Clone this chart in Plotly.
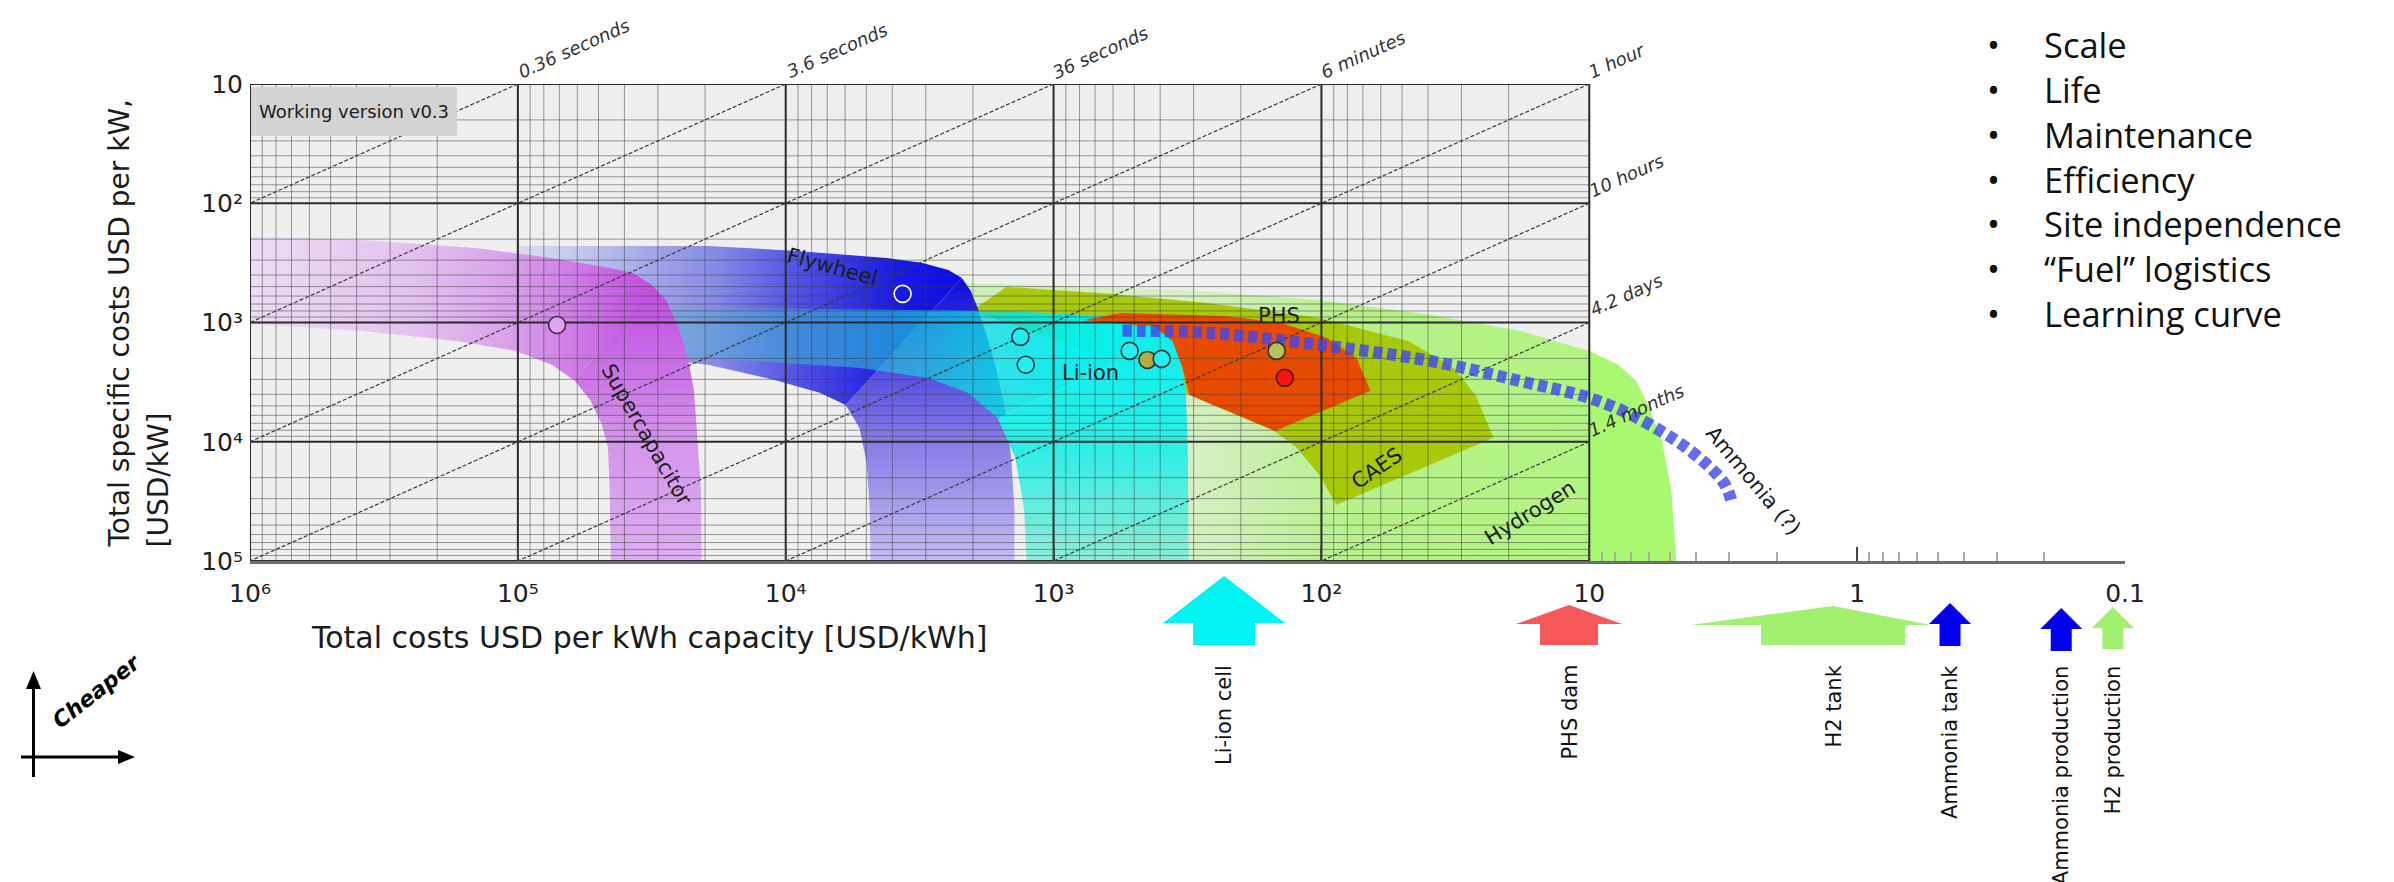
import numpy as np
import plotly.graph_objects as go

# ---------------------------------------------------------------- data
X_TICKS = [1e6, 1e5, 1e4, 1e3, 1e2, 10, 1, 0.1]
X_TICKTEXT = ['10\u2076', '10\u2075', '10\u2074', '10\u00b3', '10\u00b2', '10', '1', '0.1']
X_MINOR = [m * 10.0 ** k for k in (-1, 0) for m in range(2, 10)]
Y_TICKS = [10, 1e2, 1e3, 1e4, 1e5]
Y_TICKTEXT = ['10', '10\u00b2', '10\u00b3', '10\u2074', '10\u2075']

DURATION_HOURS = [1e-4, 1e-3, 1e-2, 1e-1, 1, 10, 100, 1000]
DURATION_LABELS = ['0.36 seconds', '3.6 seconds', '36 seconds', '6 minutes',
                   '1 hour', '10 hours', '4.2 days', '1.4 months']

# region outlines: outer edge (top, then right side down), inner edge (bottom up, then back left)
SUPERCAP_OUTER_X = [1.0e6, 3.85e5, 1.44e5, 7.46e4, 4.54e4, 3.72e4, 3.16e4, 2.78e4, 2.51e4,
                    2.32e4, 2.20e4, 2.13e4, 2.07e4, 2.06e4]
SUPERCAP_OUTER_Y = [191, 203, 237, 288, 349, 384, 484, 659, 1110, 1980, 3740, 9820, 25800, 1.0e5]
SUPERCAP_INNER_X = [4.50e4, 4.54e4, 4.61e4, 4.86e4, 5.35e4, 6.12e4, 7.46e4, 1.02e5, 1.69e5,
                    3.85e5, 1.0e6]
SUPERCAP_INNER_Y = [1.0e5, 25800, 11200, 7210, 4540, 3090, 2260, 1730, 1430, 1170, 1030]

FLY_OUTER_X = [1.0e5, 1.95e4, 9100, 4200, 3110, 2470, 2200, 2040, 1920, 1780, 1640, 1520,
               1440, 1400, 1400]
FLY_OUTER_Y = [228, 228, 251, 288, 316, 362, 423, 543, 755, 1270, 2400, 5200, 13600, 35800, 1.0e5]
FLY_INNER_X = [4820, 4860, 4990, 5300, 5970, 7460, 1.10e4, 1.95e4, 4.61e4, 1.0e5]
FLY_INNER_Y = [1.0e5, 35800, 15000, 7650, 4910, 3890, 3030, 2260, 1800, 1480]

LIION_OUTER_X = [1.0e5, 8280, 1490, 630, 424, 363, 336, 321, 316, 313]
LIION_OUTER_Y = [755, 769, 800, 881, 970, 1350, 1980, 3740, 9820, 1.0e5]
LIION_INNER_X = [1260, 1290, 1390, 1620, 2090, 2950, 5380, 1.95e4, 1.0e5]
LIION_INNER_Y = [1.0e5, 35800, 13600, 6310, 3890, 2910, 2400, 1980, 1800]

H2_OUTER_X = [2280, 910, 288, 102, 39.2, 18.2, 10, 7.80, 6.68, 5.97, 5.35, 4.94, 4.73]
H2_OUTER_Y = [466, 493, 543, 647, 863, 1175, 1730, 2260, 3090, 5200, 9820, 25800, 1.0e5]
H2_INNER_X = [630, 630, 966, 2090]
H2_INNER_Y = [1.0e5, 3530, 1350, 685]

CAES_X = [1950, 1500, 618, 266, 102, 47.3, 32.1, 26.6, 22.8, 87.9, 102, 124, 150, 266, 630,
          1490, 1950]
CAES_Y = [755, 503, 575, 685, 915, 1430, 2400, 4050, 9270, 33800, 18900, 11200, 8110, 4720,
          1980, 1010, 832]

PHS_X = [773, 562, 230, 141, 95.0, 74.0, 65.6, 149, 311, 330, 360, 424, 562]
PHS_Y = [951, 832, 881, 1010, 1350, 1980, 3740, 8110, 4050, 2400, 1430, 1070, 1030]

AMMONIA_X = [553, 266, 102, 39.2, 18.2, 10, 6.97, 4.73, 3.63, 3.11, 2.92]
AMMONIA_Y = [1175, 1220, 1540, 2100, 3090, 4290, 5960, 9820, 15600, 23000, 33800]

MARKER_X = [7.14e4, 3660, 1330, 1270, 520, 446, 395, 147, 137]
MARKER_Y = [1050, 575, 1320, 2260, 1730, 2060, 2020, 1730, 2910]
MARKER_FILL = ['#e0a4f2', '#1818e6', '#22eef0', '#22eef0', '#22eef0', '#b4ae42',
               '#22eef0', '#b8c25c', '#ff1010']
MARKER_EDGE = ['#3b2b40', '#ffffff', '#263838', '#263838', '#263838', '#333322',
               '#263838', '#333322', '#402020']

REGION_LABELS = ['Supercapacitor', 'Flywheel', 'Li-ion', 'PHS', 'CAES', 'Hydrogen', 'Ammonia (?)']
REGION_LABEL_X = [3.3e4, 6680, 728, 144, 61.8, 16.7, 2.44]
REGION_LABEL_Y = [8750, 342, 2640, 881, 16600, 39400, 21300]
REGION_LABEL_ANGLE = [60, 15, 0, 0, -34, -32, 50]

ARROW_LABELS = ['Li-ion cell', 'PHS dam', 'H2 tank', 'Ammonia tank', 'Ammonia production',
                'H2 production']
ARROW_X = [231, 11.9, 1.23, 0.450, 0.173, 0.111]

BULLETS = ['Scale', 'Life', 'Maintenance', 'Efficiency', 'Site independence',
           '\u201cFuel\u201d logistics', 'Learning curve']

# ---------------------------------------------------------------- layout geometry / styles
W, H = 2394, 882
ML, MR, MT, MB = 242, 277, 76, 329
PW, PH = W - ML - MR, H - MT - MB
XR = [6, -1]
YR = [5, 1]
FONT = 'DejaVu Sans'
TXT = '#1c1c1c'

ARROW_COLORS = ['#00f4f4', '#f85858', '#a2f070', '#0000ee', '#0000ee', '#a2f070']
# tip_y, base_y, bottom_y, head_left, head_right, shaft_half
ARROW_GEOM = [(568, 615, 637, -61, 61, 31),
              (597, 616, 637, -53, 53, 29),
              (598, 617, 637, -143, 98, 72),
              (595, 616, 638, -21, 21, 10.5),
              (600, 621, 643, -21, 21, 10.5),
              (599, 620, 641, -21, 21, 10.5)]


def fx(px):
    return (px - ML) / PW


def fy(py):
    return (H - MB - py) / PH


def xpix(v):
    return ML + (XR[0] - np.log10(v)) / (XR[0] - XR[1]) * PW


def ypix(v):
    return MT + (np.log10(v) - YR[1]) / (YR[0] - YR[1]) * PH


def fill_trace(xs, ys, gtype=None, cscale=None, color=None):
    kw = dict(x=list(xs), y=list(ys), mode='lines', fill='toself',
              line=dict(width=0, color='rgba(0,0,0,0)'), hoverinfo='skip', showlegend=False)
    if gtype:
        kw['fillgradient'] = dict(type=gtype, colorscale=cscale)
    else:
        kw['fillcolor'] = color
    return go.Scatter(**kw)


def split_band(ox, oy, ix, iy, ko, ki):
    top = (ox[:ko + 1] + ix[ki:], oy[:ko + 1] + iy[ki:])
    vert = (ox[ko:] + ix[:ki + 1], oy[ko:] + iy[:ki + 1])
    return top, vert


def segments(pairs):
    xs, ys = [], []
    for (x0, y0), (x1, y1) in pairs:
        xs += [x0, x1, None]
        ys += [y0, y1, None]
    return xs, ys


fig = go.Figure()

# ---------------------------------------------------------------- filled regions
H2_SCALE = [[0, 'rgba(175,240,130,0.55)'], [0.3, 'rgba(180,240,140,0.40)'],
            [0.45, 'rgba(170,240,120,0.62)'], [0.55, 'rgba(168,242,112,0.80)'],
            [0.875, 'rgba(168,245,112,0.85)'], [0.885, 'rgb(168,248,112)'], [1, 'rgb(168,248,112)']]
fig.add_trace(fill_trace(H2_OUTER_X + H2_INNER_X, H2_OUTER_Y + H2_INNER_Y, 'horizontal', H2_SCALE))
fig.add_trace(fill_trace(CAES_X, CAES_Y, color='rgba(166,198,0,0.93)'))

# vertical fill gradients run from the bottom (0) to the top (1)
fw_top, fw_vert = split_band(FLY_OUTER_X, FLY_OUTER_Y, FLY_INNER_X, FLY_INNER_Y, 6, 4)
fig.add_trace(fill_trace(*fw_top, 'horizontal',
                         [[0, 'rgba(200,205,238,0.55)'], [0.2, '#b6baeb'], [0.45, '#8589e6'],
                          [0.65, '#4c4ce5'], [0.85, '#1a1ae7'], [1, '#0a0ae9']]))
fig.add_trace(fill_trace(*fw_vert, 'vertical',
                         [[0, '#c4bcf2'], [0.4, '#8a80e6'], [0.72, '#4a44e2'], [1, '#0a0ae9']]))

li_top, li_vert = split_band(LIION_OUTER_X, LIION_OUTER_Y, LIION_INNER_X, LIION_INNER_Y, 5, 3)
fig.add_trace(fill_trace(*li_top, 'horizontal',
                         [[0, 'rgba(90,170,195,0.12)'], [0.3, 'rgba(70,180,205,0.42)'],
                          [0.55, 'rgba(40,200,215,0.60)'], [0.75, 'rgba(0,225,230,0.82)'],
                          [0.85, 'rgba(0,240,240,0.95)'], [1, 'rgb(12,240,240)']]))
fig.add_trace(fill_trace(*li_vert, 'vertical',
                         [[0, 'rgba(125,236,214,0.85)'], [0.5, 'rgb(45,238,230)'],
                          [1, 'rgb(12,240,240)']]))

fig.add_trace(fill_trace(PHS_X, PHS_Y, color='rgba(232,70,0,0.96)'))

sc_top, sc_vert = split_band(SUPERCAP_OUTER_X, SUPERCAP_OUTER_Y, SUPERCAP_INNER_X,
                             SUPERCAP_INNER_Y, 6, 5)
fig.add_trace(fill_trace(*sc_top, 'horizontal',
                         [[0, '#ecdcf3'], [0.39, '#e3c3ef'], [0.64, '#d9a2eb'],
                          [0.84, '#cc74e6'], [1, '#c24ce1']]))
fig.add_trace(fill_trace(*sc_vert, 'vertical',
                         [[0, '#ddaef1'], [0.44, '#d494ec'], [0.75, '#c76ae4'], [1, '#c24ce1']]))

# ---------------------------------------------------------------- grid
minor_pairs = []
for k in range(1, 6):
    for m in range(2, 10):
        minor_pairs.append(((m * 10.0 ** k, 10), (m * 10.0 ** k, 1e5)))
for k in range(1, 5):
    for m in range(2, 10):
        minor_pairs.append(((10, m * 10.0 ** k), (1e6, m * 10.0 ** k)))
mx, my = segments(minor_pairs)
fig.add_trace(go.Scatter(x=mx, y=my, mode='lines', line=dict(color='rgba(60,60,60,0.5)', width=1),
                         hoverinfo='skip', showlegend=False))
major_pairs = [((10.0 ** k, 10), (10.0 ** k, 1e5)) for k in range(1, 7)]
major_pairs += [((10, 10.0 ** k), (1e6, 10.0 ** k)) for k in range(1, 6)]
Mx, My = segments(major_pairs)
fig.add_trace(go.Scatter(x=Mx, y=My, mode='lines', line=dict(color='#2b2b2b', width=2),
                         hoverinfo='skip', showlegend=False))

# constant-duration diagonals
diag_pairs = []
for h in DURATION_HOURS:
    x0 = max(10.0, 10.0 / h)
    x1 = min(1e6, 1e5 / h)
    diag_pairs.append(((x0, h * x0), (x1, h * x1)))
dx, dy = segments(diag_pairs)
fig.add_trace(go.Scatter(x=dx, y=dy, mode='lines',
                         line=dict(color='#3a3a3a', width=1.2, dash='4px,2px'),
                         hoverinfo='skip', showlegend=False))

# ammonia dashed path
fig.add_trace(go.Scatter(x=AMMONIA_X, y=AMMONIA_Y, mode='lines', line_shape='spline',
                         line=dict(color='rgba(60,70,240,0.8)', width=12, dash='9px,5px'),
                         hoverinfo='skip', showlegend=False))

# markers
fig.add_trace(go.Scatter(x=MARKER_X, y=MARKER_Y, mode='markers',
                         marker=dict(size=17, color=MARKER_FILL,
                                     line=dict(color=MARKER_EDGE, width=1.6)),
                         hoverinfo='skip', showlegend=False))

# ---------------------------------------------------------------- annotations
ann = []
ang = np.degrees(np.arctan((PH / (YR[0] - YR[1])) / (PW / (XR[0] - XR[1]))))
u = np.array([np.cos(np.radians(ang)), -np.sin(np.radians(ang))])
n = np.array([-np.sin(np.radians(ang)), -np.cos(np.radians(ang))])
DFS = 18
for h, lab in zip(DURATION_HOURS, DURATION_LABELS):
    x0 = max(10.0, 10.0 / h)
    P = np.array([xpix(x0), ypix(h * x0)])
    w = 0.56 * DFS * len(lab)
    c = P + (5 + w / 2) * u + 10 * n
    ann.append(dict(x=fx(c[0]), y=fy(c[1]), xref='paper', yref='paper', text=lab,
                    showarrow=False, textangle=-ang, xanchor='center', yanchor='middle',
                    font=dict(family=FONT, size=DFS, color='#333', style='italic')))

for lab, xv, yv, a in zip(REGION_LABELS, REGION_LABEL_X, REGION_LABEL_Y, REGION_LABEL_ANGLE):
    ann.append(dict(x=np.log10(xv), y=np.log10(yv), xref='x', yref='y', text=lab, showarrow=False,
                    textangle=a, xanchor='center', yanchor='middle',
                    font=dict(family=FONT, size=21, color=TXT)))

ann.append(dict(x=fx(243), y=fy(79), xref='paper', yref='paper', text='Working version v0.3',
                showarrow=False, xanchor='left', yanchor='top', width=206, height=49,
                bgcolor='#d3d3d3', borderpad=0, borderwidth=0, align='center', valign='middle',
                font=dict(family=FONT, size=18, color=TXT)))

# axis titles
ann.append(dict(x=fx(641), y=fy(629), xref='paper', yref='paper',
                text='Total costs USD per kWh capacity [USD/kWh]', showarrow=False,
                xanchor='center', yanchor='middle', font=dict(family=FONT, size=30, color=TXT)))
ann.append(dict(x=fx(111), y=fy(542), xref='paper', yref='paper',
                text='Total specific costs USD per kW,', showarrow=False, textangle=-90,
                xanchor='center', yanchor='bottom', font=dict(family=FONT, size=28, color=TXT)))
ann.append(dict(x=fx(150), y=fy(542), xref='paper', yref='paper', text='[USD/kW]',
                showarrow=False, textangle=-90, xanchor='center', yanchor='bottom',
                font=dict(family=FONT, size=28, color=TXT)))

# bullet list (two text blocks: bullet column and item column)
BFS = 34.5
mid_y = 36 + 44.85 * (len(BULLETS) - 1) / 2
ann.append(dict(x=fx(1985), y=fy(mid_y), xref='paper', yref='paper',
                text='<br>'.join(['\u2022'] * len(BULLETS)), showarrow=False,
                xanchor='center', yanchor='middle', align='center',
                font=dict(family='Open Sans', size=BFS, color='#111')))
ann.append(dict(x=fx(2034), y=fy(mid_y), xref='paper', yref='paper',
                text='<br>'.join(BULLETS), showarrow=False,
                xanchor='left', yanchor='middle', align='left',
                font=dict(family='Open Sans', size=BFS, color='#111')))

# bottom arrows
shapes = [dict(type='rect', xref='x', yref='y', x0=10, x1=1e6, y0=10, y1=1e5,
               fillcolor='#efefef', line=dict(width=0), layer='below')]
for lab, xv, col, g in zip(ARROW_LABELS, ARROW_X, ARROW_COLORS, ARROW_GEOM):
    cx = xpix(xv)
    tip, base, bot, hl, hr, sh = g
    pts = [(cx, tip), (cx + hr, base), (cx + sh, base), (cx + sh, bot), (cx - sh, bot),
           (cx - sh, base), (cx + hl, base)]
    path = 'M ' + ' L '.join(f'{fx(a):.5f},{fy(b):.5f}' for a, b in pts) + ' Z'
    shapes.append(dict(type='path', xref='paper', yref='paper', path=path, fillcolor=col,
                       line=dict(width=0), layer='above'))
    ann.append(dict(x=fx(cx), y=fy(655), xref='paper', yref='paper', text=lab, showarrow=False,
                    textangle=-90, xanchor='center', yanchor='top',
                    font=dict(family=FONT, size=21, color='#111')))

# "Cheaper" key
shapes.append(dict(type='line', xref='paper', yref='paper', x0=fx(25.5), x1=fx(25.5),
                   y0=fy(769), y1=fy(678), line=dict(color='black', width=3)))
shapes.append(dict(type='line', xref='paper', yref='paper', x0=fx(13), x1=fx(112),
                   y0=fy(749), y1=fy(749), line=dict(color='black', width=3)))
for pts in ([(25.5, 663), (33, 681), (18, 681)], [(127, 749), (110, 742), (110, 756)]):
    path = 'M ' + ' L '.join(f'{fx(a):.5f},{fy(b):.5f}' for a, b in pts) + ' Z'
    shapes.append(dict(type='path', xref='paper', yref='paper', path=path, fillcolor='black',
                       line=dict(width=0)))
ann.append(dict(x=fx(88), y=fy(683), xref='paper', yref='paper', text='Cheaper',
                showarrow=False, textangle=-38, xanchor='center', yanchor='middle',
                font=dict(family=FONT, size=22, color='black', style='italic', weight='bold')))

fig.update_layout(
    width=W, height=H, autosize=False,
    margin=dict(l=ML, r=MR, t=MT, b=MB, pad=0),
    paper_bgcolor='white', plot_bgcolor='white',
    showlegend=False,
    annotations=ann, shapes=shapes,
    xaxis=dict(type='log', range=XR, showgrid=False, zeroline=False, showline=True,
               linecolor='#6e6e6e', linewidth=3, ticks='inside', ticklen=14, tickwidth=2,
               tickcolor='#444', tickmode='array', tickvals=X_TICKS, ticktext=X_TICKTEXT,
               tickfont=dict(family=FONT, size=25, color='#222'), ticklabelstandoff=8,
               minor=dict(tickmode='array', tickvals=X_MINOR, ticks='inside', ticklen=9,
                          tickwidth=1.5, tickcolor='#aaaaaa', showgrid=False)),
    yaxis=dict(type='log', range=YR, showgrid=False, zeroline=False, showline=False, ticks='',
               tickmode='array', tickvals=Y_TICKS, ticktext=Y_TICKTEXT,
               tickfont=dict(family=FONT, size=25, color='#222'), ticklabelstandoff=6),
)

fig.write_html('out.html')
